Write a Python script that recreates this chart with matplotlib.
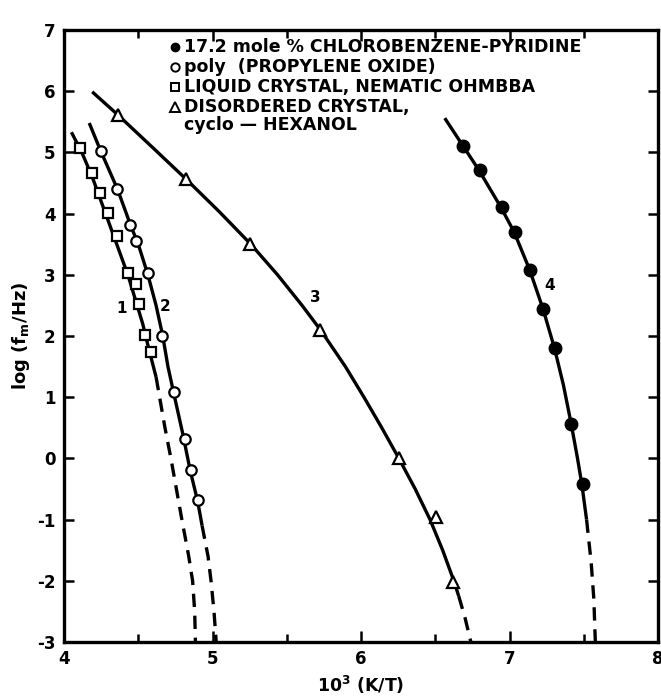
import matplotlib
matplotlib.use("Agg")
import matplotlib.pyplot as plt

plt.rcParams["axes.unicode_minus"] = False

# ---- data ----
# 1: liquid crystal, nematic OHMBBA (squares)
sq_x = [4.107, 4.19, 4.242, 4.297, 4.354, 4.432, 4.483, 4.503, 4.547, 4.584]
sq_y = [5.07, 4.67, 4.33, 4.01, 3.63, 3.03, 2.85, 2.52, 2.02, 1.74]
c1_solid_x = [4.05, 4.12, 4.19, 4.25, 4.31, 4.37, 4.43, 4.48, 4.53, 4.57, 4.62]
c1_solid_y = [5.33, 5.0, 4.6, 4.2, 3.8, 3.4, 3.0, 2.6, 2.2, 1.8, 1.33]
c1_dash_x = [4.62, 4.68, 4.72, 4.79, 4.84, 4.866, 4.88, 4.885]
c1_dash_y = [1.33, 0.5, 0.0, -0.95, -1.6, -2.0, -2.5, -3.0]

# 2: poly(propylene oxide) (open circles)
oc_x = [4.246, 4.36, 4.443, 4.488, 4.564, 4.66, 4.74, 4.812, 4.852, 4.901]
oc_y = [5.03, 4.40, 3.81, 3.55, 3.03, 2.00, 1.09, 0.32, -0.19, -0.68]
c2_solid_x = [4.17, 4.246, 4.36, 4.45, 4.50, 4.565, 4.62, 4.665, 4.70, 4.745, 4.80, 4.85, 4.90, 4.93]
c2_solid_y = [5.48, 5.03, 4.40, 3.8, 3.5, 3.0, 2.5, 2.0, 1.5, 1.0, 0.4, -0.2, -0.7, -1.1]
c2_dash_x = [4.93, 4.97, 4.99, 5.01, 5.025]
c2_dash_y = [-1.1, -1.6, -2.0, -2.5, -3.0]

# 3: disordered crystal, cyclo-hexanol (triangles)
tr_x = [4.364, 4.819, 5.255, 5.725, 6.255, 6.508, 6.617]
tr_y = [5.61, 4.57, 3.51, 2.10, 0.00, -0.96, -2.02]
c3_solid_x = [4.19, 4.364, 4.588, 4.819, 5.042, 5.254, 5.438, 5.603, 5.727, 5.895,
              6.02, 6.14, 6.255, 6.365, 6.465, 6.55, 6.625, 6.658]
c3_solid_y = [5.99, 5.61, 5.1, 4.57, 4.04, 3.51, 3.0, 2.5, 2.1, 1.5,
              1.0, 0.5, 0.0, -0.5, -1.0, -1.5, -2.0, -2.25]
c3_dash_x = [6.658, 6.70, 6.74]
c3_dash_y = [-2.25, -2.6, -3.0]

# 4: 17.2 mole % chlorobenzene-pyridine (filled circles)
fc_x = [6.687, 6.799, 6.948, 7.038, 7.139, 7.228, 7.307, 7.411, 7.497]
fc_y = [5.11, 4.71, 4.10, 3.70, 3.08, 2.44, 1.80, 0.57, -0.42]
c4_solid_x = [6.564, 6.686, 6.794, 6.943, 7.031, 7.136, 7.226, 7.303, 7.363, 7.415,
              7.458, 7.487, 7.519]
c4_solid_y = [5.56, 5.11, 4.71, 4.10, 3.70, 3.08, 2.44, 1.80, 1.2, 0.57,
              0.0, -0.42, -1.0]
c4_dash_x = [7.519, 7.55, 7.568, 7.578]
c4_dash_y = [-1.0, -1.7, -2.3, -3.0]

curve_labels = ["1", "2", "3", "4"]
curve_label_x = [4.387, 4.678, 5.69, 7.27]
curve_label_y = [2.45, 2.48, 2.63, 2.83]

legend_text = ["17.2 mole % CHLOROBENZENE-PYRIDINE",
               "poly  (PROPYLENE OXIDE)",
               "LIQUID CRYSTAL, NEMATIC OHMBBA",
               "DISORDERED CRYSTAL,",
               "cyclo \u2014 HEXANOL"]

xticks = [4, 5, 6, 7, 8]
yticks = [-3, -2, -1, 0, 1, 2, 3, 4, 5, 6, 7]

# ---- figure ----
fig = plt.figure(figsize=(6.61, 6.99), dpi=100)
ax = fig.add_axes([64/661, 57/699, 594/661, 612/699])
lw = 2.4
dash = (0, (4, 2.6))

for sx, sy, dx, dy in [(c1_solid_x, c1_solid_y, c1_dash_x, c1_dash_y),
                       (c2_solid_x, c2_solid_y, c2_dash_x, c2_dash_y),
                       (c3_solid_x, c3_solid_y, c3_dash_x, c3_dash_y),
                       (c4_solid_x, c4_solid_y, c4_dash_x, c4_dash_y)]:
    ax.plot(sx, sy, color="black", lw=lw, solid_capstyle="butt",
            solid_joinstyle="round", zorder=2)
    ax.plot(dx, dy, color="black", lw=lw, linestyle=dash, zorder=2)

mk = dict(color="none", markeredgecolor="black", markerfacecolor="white",
          markeredgewidth=1.6, zorder=3, linestyle="none")
ax.plot(sq_x, sq_y, marker="s", markersize=7, **mk)
ax.plot(oc_x, oc_y, marker="o", markersize=7.5, **mk)
ax.plot(tr_x, tr_y, marker="^", markersize=8, **mk)
ax.plot(fc_x, fc_y, marker="o", markersize=9, linestyle="none",
        color="black", zorder=3)

for t, x, y in zip(curve_labels, curve_label_x, curve_label_y):
    ax.text(x, y, t, fontsize=11, fontweight="bold", ha="center", va="center")

# legend as text rows
rows_y = [6.72, 6.39, 6.07, 5.74, 5.45]
mx = 4.75
tx = 4.81
ax.plot([mx], [rows_y[0]], marker="o", markersize=6, color="black", linestyle="none")
ax.plot([mx], [rows_y[1]], marker="o", markersize=6, markerfacecolor="white",
        markeredgecolor="black", markeredgewidth=1.4, linestyle="none")
ax.plot([mx], [rows_y[2]], marker="s", markersize=6, markerfacecolor="white",
        markeredgecolor="black", markeredgewidth=1.4, linestyle="none")
ax.plot([mx], [rows_y[3]], marker="^", markersize=6.5, markerfacecolor="white",
        markeredgecolor="black", markeredgewidth=1.4, linestyle="none")
for i, t in enumerate(legend_text):
    ax.text(tx, rows_y[i], t, fontsize=12.5, fontweight="bold", ha="left",
            va="center", family="DejaVu Sans")

ax.set_xlim(4, 8)
ax.set_ylim(-3, 7)
ax.set_xticks(xticks)
ax.set_yticks(yticks)
ax.set_xticks([4.5, 5.5, 6.5, 7.5], minor=True)
ax.tick_params(axis="x", which="major", direction="in", length=8, width=1.8,
               top=True, labelsize=12, pad=6)
ax.tick_params(axis="x", which="minor", direction="in", length=6, width=1.8, top=True)
ax.tick_params(axis="y", which="major", direction="in", length=7, width=1.8,
               right=True, labelsize=12, pad=6)
for lab in ax.get_xticklabels() + ax.get_yticklabels():
    lab.set_fontweight("bold")
for s in ax.spines.values():
    s.set_linewidth(2.4)

ax.set_xlabel("10$^{\\mathbf{3}}$ (K/T)", fontsize=12.5, fontweight="bold", labelpad=4)
ax.set_ylabel("log (f$_{\\mathbf{m}}$/Hz)", fontsize=13, fontweight="bold", labelpad=4)

fig.savefig("out.png", dpi=100)
